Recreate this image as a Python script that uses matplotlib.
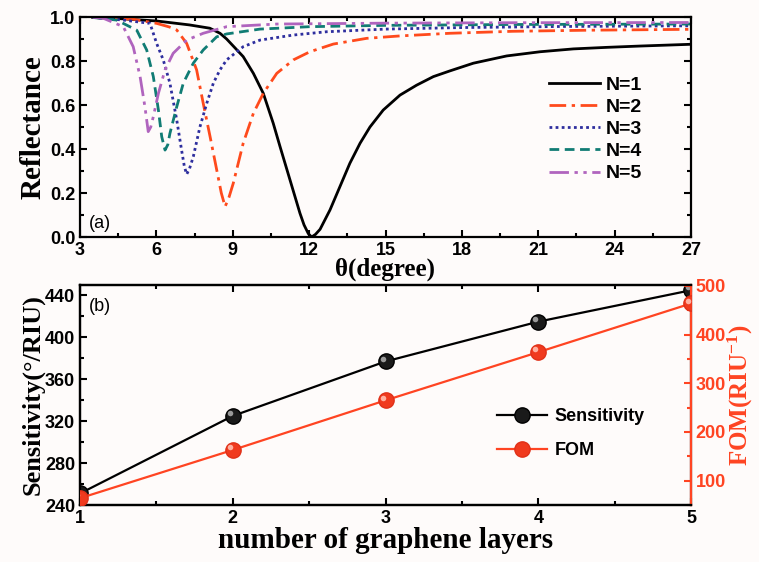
import numpy as np
import matplotlib
matplotlib.use("Agg")
import matplotlib.pyplot as plt
from matplotlib.ticker import MultipleLocator, FormatStrFormatter
from matplotlib.transforms import offset_copy

# ---- panel (a): reflectance curves ----
theta_n1 = [3.5, 4.5, 6.0, 7.3, 8.1, 8.5, 8.76, 9.41, 9.81, 10.2, 10.59, 10.86,
            11.25, 11.64, 11.8, 11.97, 12.1, 12.25, 12.43, 12.82, 13.21, 13.6,
            14.0, 14.39, 14.91, 15.57, 16.22, 16.88, 17.53, 18.45, 19.76, 21.07,
            22.38, 23.69, 25.0, 27.0]
r_n1 = [0.998, 0.993, 0.982, 0.964, 0.949, 0.926, 0.90, 0.82, 0.744, 0.653, 0.517,
        0.41, 0.259, 0.108, 0.055, 0.015, 0.0, 0.012, 0.035, 0.123, 0.229, 0.335,
        0.426, 0.50, 0.577, 0.645, 0.69, 0.729, 0.755, 0.79, 0.823, 0.842, 0.855,
        0.862, 0.868, 0.876]

theta_n2 = [3.5, 5.09, 6.01, 6.5, 6.8, 7.19, 7.58, 7.84, 8.11, 8.37, 8.55, 8.70,
            8.85, 9.02, 9.41, 9.81, 10.2, 10.73, 11.38, 12.03, 12.95, 14.26, 15.57,
            17.53, 20.0, 23.0, 27.0]
r_n2 = [0.998, 0.99, 0.971, 0.955, 0.941, 0.88, 0.76, 0.608, 0.456, 0.305, 0.2,
        0.138, 0.18, 0.244, 0.426, 0.562, 0.653, 0.744, 0.805, 0.842, 0.877, 0.903,
        0.914, 0.926, 0.935, 0.94, 0.944]

theta_n3 = [3.5, 4.7, 5.75, 6.01, 6.27, 6.53, 6.8, 6.99, 7.1, 7.19, 7.3, 7.45, 7.71,
            7.98, 8.24, 8.5, 8.76, 9.41, 10.07, 11.38, 12.69, 15.0, 18.0, 22.0, 27.0]
r_n3 = [0.998, 0.986, 0.971, 0.88, 0.805, 0.70, 0.532, 0.395, 0.32, 0.285, 0.31,
        0.365, 0.50, 0.608, 0.70, 0.76, 0.805, 0.865, 0.895, 0.918, 0.933, 0.945,
        0.952, 0.957, 0.96]

theta_n4 = [3.5, 4.44, 5.23, 5.62, 5.88, 6.08, 6.21, 6.34, 6.45, 6.53, 6.8, 7.06,
            7.45, 7.84, 8.37, 8.76, 10.07, 12.03, 15.0, 20.0, 27.0]
r_n4 = [0.998, 0.986, 0.94, 0.85, 0.729, 0.577, 0.456, 0.395, 0.42, 0.47, 0.592,
        0.70, 0.79, 0.85, 0.91, 0.923, 0.945, 0.956, 0.962, 0.966, 0.968]

theta_n5 = [3.5, 3.92, 4.7, 5.09, 5.36, 5.55, 5.68, 5.78, 5.88, 6.08, 6.34, 6.66,
            7.19, 7.84, 8.76, 10.73, 15.0, 20.0, 27.0]
r_n5 = [0.999, 0.994, 0.956, 0.865, 0.729, 0.592, 0.479, 0.50, 0.547, 0.653, 0.76,
        0.835, 0.895, 0.926, 0.956, 0.968, 0.972, 0.974, 0.975]

# ---- panel (b) ----
layers = [1, 2, 3, 4, 5]
sensitivity = [251, 325, 377, 415, 445]
fom = [64, 163, 265, 364, 464]

RED = "#FF4422"
SERIF = "Liberation Serif"

plt.rcParams["font.family"] = "Liberation Sans"
plt.rcParams["font.weight"] = "bold"
plt.rcParams["axes.labelweight"] = "bold"
plt.rcParams["mathtext.fontset"] = "custom"
plt.rcParams["mathtext.rm"] = "Liberation Serif:bold"
plt.rcParams["mathtext.it"] = "Liberation Serif:bold"


def style_axes(ax, right=True):
    for s in ax.spines.values():
        s.set_linewidth(1.6)
    ax.tick_params(which="both", direction="in", top=True, right=right,
                   labelsize=13, width=1.5)
    ax.tick_params(which="major", length=5)
    ax.tick_params(which="minor", length=3)


fig = plt.figure(figsize=(7.59, 5.62), dpi=100)
fig.patch.set_facecolor("#FEFBFA")

# panel (a)
ax1 = fig.add_axes([80 / 759, 1 - 237 / 562, 611 / 759, 220 / 562])
ax1.set_facecolor("#FEFBFA")
ax1.plot(theta_n1, r_n1, color="black", lw=2.0, ls="-", label="N=1")
ax1.plot(theta_n2, r_n2, color="#FF4A1C", lw=2.0, ls=(0, (6, 2, 1.2, 2)), label="N=2")
ax1.plot(theta_n3, r_n3, color="#2E2E9E", lw=2.0, ls=(0, (1, 1.2)), label="N=3")
ax1.plot(theta_n4, r_n4, color="#117C74", lw=2.0, ls=(0, (3.5, 2)), label="N=4")
ax1.plot(theta_n5, r_n5, color="#B064BE", lw=2.0, ls=(0, (7, 2, 1.2, 2, 1.2, 2)), label="N=5")
ax1.set_xlim(3, 27)
ax1.set_ylim(0, 1.0)
ax1.xaxis.set_major_locator(MultipleLocator(3))
ax1.xaxis.set_minor_locator(MultipleLocator(1.5))
ax1.yaxis.set_major_locator(MultipleLocator(0.2))
ax1.yaxis.set_minor_locator(MultipleLocator(0.1))
ax1.yaxis.set_major_formatter(FormatStrFormatter("%.1f"))
style_axes(ax1)
ax1.set_xlabel("θ(degree)", family=SERIF, fontsize=18, labelpad=-1)
ax1.set_ylabel("Reflectance", family=SERIF, fontsize=21, labelpad=2)
ax1.text(0.015, 0.04, "(a)", transform=ax1.transAxes, fontsize=13, fontweight="normal")
ax1.legend(loc="upper left", bbox_to_anchor=(0.768, 0.73), frameon=False,
           fontsize=14, handlelength=2.6, handletextpad=0.3, labelspacing=0.23,
           borderpad=0, borderaxespad=0)

# panel (b)
ax2 = fig.add_axes([80 / 759, 1 - 505 / 562, 611 / 759, 220 / 562])
ax2.set_facecolor("#FEFBFA")
ax3 = ax2.twinx()

ax2.plot(layers, sensitivity, color="black", lw=1.6, marker="o", ms=11,
         mfc="#1a1a1a", mec="black", label="Sensitivity", zorder=3)
ax2.plot(layers, sensitivity, ls="none", marker="o", ms=4, mfc="#9a9a9a", mec="none",
         transform=offset_copy(ax2.transData, fig=fig, x=-2, y=2, units="points"), zorder=4)
ax3.plot(layers, fom, color=RED, lw=1.6, marker="o", ms=11,
         mfc="#F03A1E", mec="#E03018", label="FOM", zorder=3)
ax3.plot(layers, fom, ls="none", marker="o", ms=4, mfc="#FFB0A0", mec="none",
         transform=offset_copy(ax3.transData, fig=fig, x=-2, y=2, units="points"), zorder=4)

ax2.set_xlim(1, 5)
ax2.set_ylim(240, 450)
ax3.set_ylim(50, 502)
ax2.xaxis.set_major_locator(MultipleLocator(1))
ax2.xaxis.set_minor_locator(MultipleLocator(0.5))
ax2.yaxis.set_major_locator(MultipleLocator(40))
ax2.yaxis.set_minor_locator(MultipleLocator(20))
ax3.yaxis.set_major_locator(MultipleLocator(100))
ax3.yaxis.set_minor_locator(MultipleLocator(50))
style_axes(ax2, right=False)
for s in ax3.spines.values():
    s.set_linewidth(1.6)
ax3.spines["right"].set_color(RED)
ax3.tick_params(which="both", direction="in", colors=RED, labelsize=13, width=1.5)
ax3.tick_params(which="major", length=5)
ax3.tick_params(which="minor", length=3)

ax2.set_xlabel("number of graphene layers", family=SERIF, fontsize=21, labelpad=0)
ax2.set_ylabel("Sensitivity(°/RIU)", family=SERIF, fontsize=19, labelpad=0)
ax3.set_ylabel("FOM(RIU$^{-1}$)", family=SERIF, fontsize=18, color=RED, labelpad=0)
ax2.text(0.015, 0.88, "(b)", transform=ax2.transAxes, fontsize=13, fontweight="normal")

h2, l2 = ax2.get_legend_handles_labels()
h3, l3 = ax3.get_legend_handles_labels()
ax3.legend(h2 + h3, l2 + l3, loc="upper left", bbox_to_anchor=(0.682, 0.44),
           frameon=False, fontsize=13, handlelength=2.8, handletextpad=0.4,
           labelspacing=0.95, borderpad=0, borderaxespad=0)

fig.savefig("out.png", dpi=100, facecolor=fig.get_facecolor())
